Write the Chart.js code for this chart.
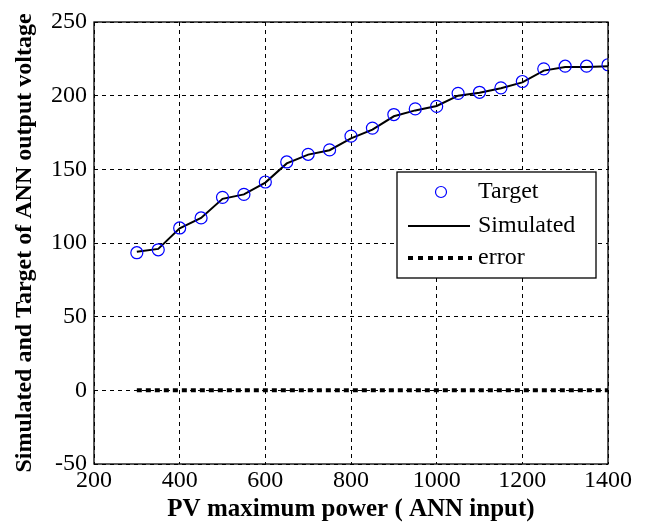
<!DOCTYPE html>
<html>
<head>
<meta charset="utf-8">
<script src="https://cdn.jsdelivr.net/npm/chart.js@4/dist/chart.umd.min.js"></script>
<style>
html,body{margin:0;padding:0;background:#fff;}
#wrap{width:653px;height:526px;}
</style>
</head>
<body>
<div id="wrap"><canvas id="c" width="653" height="526"></canvas></div>
<script>
const xValues = [300,350,400,450,500,550,600,650,700,750,800,850,900,950,1000,1050,1100,1150,1200,1250,1300,1350,1400];
const targetValues = [93.4,95.4,110.2,117,131,133,141.4,155,160.2,163.2,172.5,178,187.2,191,192.7,201.6,202.3,205.3,209.6,218.2,220,220,221];
const simulatedValues = [94,96,110,117,130,133,141,154,160,163,171,177,186,190,193,200,202,205,209,217,219.5,219.5,220];
const errorValues = [0,0,0,0,0,0,0,0,0,0,0,0,0,0,0,0,0,0,0,0,0,0,0];
const xTicks = [200,400,600,800,1000,1200,1400];
const yTicks = [-50,0,50,100,150,200,250];
const seriesLabels = ['Target','Simulated','error'];

const pts = (ys) => xValues.map((x,i)=>({x:x,y:ys[i]}));
const FONT = "'Liberation Serif','Times New Roman',serif";

const boxPlugin = {
  id:'box',
  afterDatasetsDraw(chart){
    const {ctx, chartArea:a} = chart;
    ctx.save();
    ctx.strokeStyle='#000'; ctx.lineWidth=1.3; ctx.setLineDash([]);
    ctx.strokeRect(a.left, a.top, a.right-a.left, a.bottom-a.top);
    ctx.restore();
  },
  afterDraw(chart){
    const ctx = chart.ctx;
    const L=397, T=172, R=596, B=278;
    ctx.save();
    ctx.fillStyle='#fff';
    ctx.fillRect(L,T,R-L,B-T);
    ctx.strokeStyle='#000'; ctx.lineWidth=1.3; ctx.setLineDash([]);
    ctx.strokeRect(L,T,R-L,B-T);
    const ds = chart.data.datasets;
    const rows=[192,226,258];
    ctx.strokeStyle='blue'; ctx.lineWidth=1.2;
    ctx.beginPath(); ctx.arc(441,rows[0],5.5,0,Math.PI*2); ctx.stroke();
    ctx.strokeStyle='#000'; ctx.lineWidth=2;
    ctx.beginPath(); ctx.moveTo(408,rows[1]); ctx.lineTo(470,rows[1]); ctx.stroke();
    ctx.lineWidth=4; ctx.setLineDash([5,5]);
    ctx.beginPath(); ctx.moveTo(408,rows[2]); ctx.lineTo(472,rows[2]); ctx.stroke();
    ctx.setLineDash([]);
    ctx.fillStyle='#000';
    ctx.font = "24px "+FONT;
    ctx.textBaseline='middle'; ctx.textAlign='left';
    ds.forEach((d,i)=>ctx.fillText(d.label,478,rows[i]));
    ctx.restore();
  }
};

new Chart(document.getElementById('c'), {
  type:'line',
  data:{
    datasets:[
      {label:seriesLabels[0], data:pts(targetValues), showLine:false, pointStyle:'circle', pointRadius:6, pointBorderColor:'blue', pointBackgroundColor:'rgba(0,0,0,0)', pointBorderWidth:1.2, borderColor:'blue', order:1},
      {label:seriesLabels[1], data:pts(simulatedValues), borderColor:'#000', borderWidth:2, pointRadius:0, tension:0, fill:false, order:2},
      {label:seriesLabels[2], data:pts(errorValues), borderColor:'#000', borderWidth:4, borderDash:[5,4], pointRadius:0, fill:false, order:3}
    ]
  },
  options:{
    responsive:false,
    animation:false,
    layout:{padding:{left:0,right:45,top:22,bottom:0}},
    plugins:{legend:{display:false}, tooltip:{enabled:false}},
    scales:{
      x:{
        type:'linear', min:200, max:1400,
        afterBuildTicks(s){ s.ticks = xTicks.map(v=>({value:v})); },
        afterFit(s){ s.height = 62; },
        grid:{color:'#000', lineWidth:1, drawTicks:false},
        border:{display:false, dash:[4,4]},
        ticks:{color:'#000', font:{family:FONT,size:24}, padding:2, maxRotation:0, autoSkip:false, callback:(v)=>String(v)},
        title:{display:true, text:'PV maximum power ( ANN input)', color:'#000', font:{family:FONT,size:25,weight:'bold'}, padding:{top:0,bottom:1}}
      },
      y:{
        type:'linear', min:-50, max:250,
        afterBuildTicks(s){ s.ticks = yTicks.map(v=>({value:v})); },
        afterFit(s){ s.width = 94; },
        grid:{color:'#000', lineWidth:1, drawTicks:false},
        border:{display:false, dash:[4,4]},
        ticks:{color:'#000', font:{family:FONT,size:24}, padding:7, autoSkip:false, callback:(v)=>String(v)},
        title:{display:true, text:'Simulated and Target of ANN output voltage', color:'#000', font:{family:FONT,size:24,weight:'bold'}, padding:{top:10,bottom:0}}
      }
    }
  },
  plugins:[boxPlugin]
});
</script>
</body>
</html>
